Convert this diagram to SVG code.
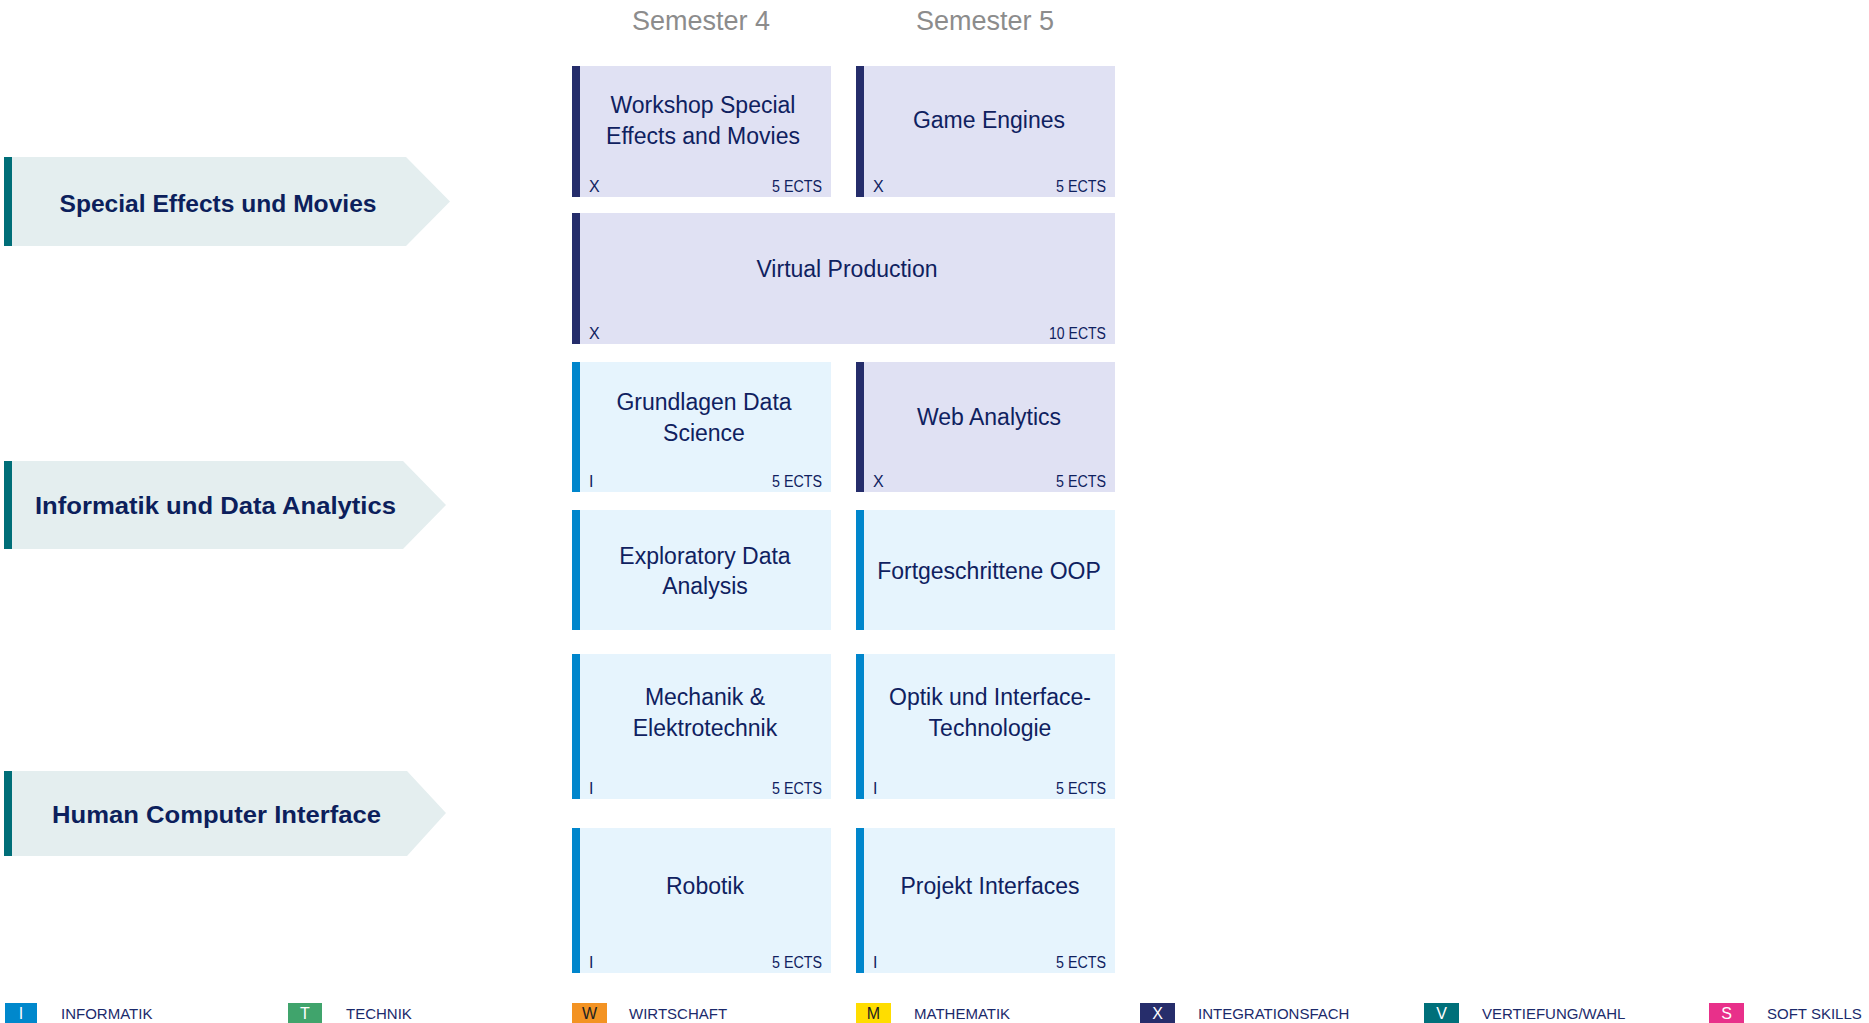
<svg xmlns="http://www.w3.org/2000/svg" width="1869" height="1023" viewBox="0 0 1869 1023">
<style>
  .bg{fill:#ffffff}
  .arrow{fill:#E4EEEF}
  .abar{fill:#006E78}
  .alabel{font-family:"Liberation Sans",Arial,sans-serif;font-weight:bold;font-size:24.5px;fill:#0C1F5C;text-anchor:middle}
  .sem{font-family:"Liberation Sans",Arial,sans-serif;font-size:27px;fill:#8C8C8C;text-anchor:middle}
  .fx{fill:#E0E1F3}
  .bx{fill:#252D6B}
  .fi{fill:#E6F4FD}
  .bi{fill:#0086CC}
  .t{font-family:"Liberation Sans",Arial,sans-serif;font-size:23px;fill:#0F2160;text-anchor:middle}
  .k{font-family:"Liberation Sans",Arial,sans-serif;font-size:16px;fill:#0F2160}
  .e{font-family:"Liberation Sans",Arial,sans-serif;font-size:16px;fill:#0F2160;text-anchor:end}
  .lg{font-family:"Liberation Sans",Arial,sans-serif;font-size:15px;fill:#1B2A6B}
  .lq{font-family:"Liberation Sans",Arial,sans-serif;font-size:16px;fill:#ffffff;text-anchor:middle}
  .lqd{font-family:"Liberation Sans",Arial,sans-serif;font-size:16px;fill:#222222;text-anchor:middle}
</style>
<rect class="bg" x="0" y="0" width="1869" height="1023"/>

<g id="headers">
  <text class="sem" x="701" y="30">Semester 4</text>
  <text class="sem" x="985" y="30">Semester 5</text>
</g>

<g id="area-sfx">
  <polygon class="arrow" points="12,157 406,157 450,201.5 406,246 12,246"/>
  <rect class="abar" x="4" y="157" width="8" height="89"/>
  <text class="alabel" x="218" y="212" textLength="317" lengthAdjust="spacingAndGlyphs">Special Effects und Movies</text>
</g>
<g id="area-ida">
  <polygon class="arrow" points="12,461 403,461 446,505 403,549 12,549"/>
  <rect class="abar" x="4" y="461" width="8" height="88"/>
  <text class="alabel" x="215.5" y="514" textLength="361" lengthAdjust="spacingAndGlyphs">Informatik und Data Analytics</text>
</g>
<g id="area-hci">
  <polygon class="arrow" points="12,771 407,771 446,813 407,856 12,856"/>
  <rect class="abar" x="4" y="771" width="8" height="85"/>
  <text class="alabel" x="216.5" y="823" textLength="329" lengthAdjust="spacingAndGlyphs">Human Computer Interface</text>
</g>

<g id="workshop">
  <rect class="fx" x="572" y="66" width="259" height="131"/>
  <rect class="bx" x="572" y="66" width="8" height="131"/>
  <text class="t" x="703" y="113">Workshop Special</text>
  <text class="t" x="703" y="144">Effects and Movies</text>
  <text class="k" x="589" y="192">X</text>
  <text class="e" x="822" y="192" textLength="50" lengthAdjust="spacingAndGlyphs">5 ECTS</text>
</g>
<g id="game-engines">
  <rect class="fx" x="856" y="66" width="259" height="131"/>
  <rect class="bx" x="856" y="66" width="8" height="131"/>
  <text class="t" x="989" y="128">Game Engines</text>
  <text class="k" x="873" y="192">X</text>
  <text class="e" x="1106" y="192" textLength="50" lengthAdjust="spacingAndGlyphs">5 ECTS</text>
</g>
<g id="virtual-production">
  <rect class="fx" x="572" y="213" width="543" height="131"/>
  <rect class="bx" x="572" y="213" width="8" height="131"/>
  <text class="t" x="847" y="277">Virtual Production</text>
  <text class="k" x="589" y="339">X</text>
  <text class="e" x="1106" y="339" textLength="57" lengthAdjust="spacingAndGlyphs">10 ECTS</text>
</g>
<g id="grundlagen-ds">
  <rect class="fi" x="572" y="362" width="259" height="130"/>
  <rect class="bi" x="572" y="362" width="8" height="130"/>
  <text class="t" x="704" y="410">Grundlagen Data</text>
  <text class="t" x="704" y="441">Science</text>
  <text class="k" x="589" y="487">I</text>
  <text class="e" x="822" y="487" textLength="50" lengthAdjust="spacingAndGlyphs">5 ECTS</text>
</g>
<g id="web-analytics">
  <rect class="fx" x="856" y="362" width="259" height="130"/>
  <rect class="bx" x="856" y="362" width="8" height="130"/>
  <text class="t" x="989" y="425">Web Analytics</text>
  <text class="k" x="873" y="487">X</text>
  <text class="e" x="1106" y="487" textLength="50" lengthAdjust="spacingAndGlyphs">5 ECTS</text>
</g>
<g id="eda">
  <rect class="fi" x="572" y="510" width="259" height="120"/>
  <rect class="bi" x="572" y="510" width="8" height="120"/>
  <text class="t" x="705" y="564">Exploratory Data</text>
  <text class="t" x="705" y="594">Analysis</text>
</g>
<g id="oop">
  <rect class="fi" x="856" y="510" width="259" height="120"/>
  <rect class="bi" x="856" y="510" width="8" height="120"/>
  <text class="t" x="989" y="579">Fortgeschrittene OOP</text>
</g>
<g id="mechanik">
  <rect class="fi" x="572" y="654" width="259" height="145"/>
  <rect class="bi" x="572" y="654" width="8" height="145"/>
  <text class="t" x="705" y="705">Mechanik &amp;</text>
  <text class="t" x="705" y="736">Elektrotechnik</text>
  <text class="k" x="589" y="794">I</text>
  <text class="e" x="822" y="794" textLength="50" lengthAdjust="spacingAndGlyphs">5 ECTS</text>
</g>
<g id="optik">
  <rect class="fi" x="856" y="654" width="259" height="145"/>
  <rect class="bi" x="856" y="654" width="8" height="145"/>
  <text class="t" x="990" y="705">Optik und Interface-</text>
  <text class="t" x="990" y="736">Technologie</text>
  <text class="k" x="873" y="794">I</text>
  <text class="e" x="1106" y="794" textLength="50" lengthAdjust="spacingAndGlyphs">5 ECTS</text>
</g>
<g id="robotik">
  <rect class="fi" x="572" y="828" width="259" height="145"/>
  <rect class="bi" x="572" y="828" width="8" height="145"/>
  <text class="t" x="705" y="894">Robotik</text>
  <text class="k" x="589" y="968">I</text>
  <text class="e" x="822" y="968" textLength="50" lengthAdjust="spacingAndGlyphs">5 ECTS</text>
</g>
<g id="projekt-interfaces">
  <rect class="fi" x="856" y="828" width="259" height="145"/>
  <rect class="bi" x="856" y="828" width="8" height="145"/>
  <text class="t" x="990" y="894">Projekt Interfaces</text>
  <text class="k" x="873" y="968">I</text>
  <text class="e" x="1106" y="968" textLength="50" lengthAdjust="spacingAndGlyphs">5 ECTS</text>
</g>

<g id="connectors"></g>

<g id="legend">
  <rect x="5" y="1003" width="32" height="20" fill="#0088CC"/>
  <text class="lq" x="21" y="1019">I</text>
  <text class="lg" x="61" y="1019">INFORMATIK</text>
  <rect x="288" y="1003" width="34" height="20" fill="#40A46C"/>
  <text class="lq" x="305" y="1019">T</text>
  <text class="lg" x="346" y="1019">TECHNIK</text>
  <rect x="572" y="1003" width="35" height="20" fill="#F39323"/>
  <text class="lqd" x="589.5" y="1019">W</text>
  <text class="lg" x="629" y="1019">WIRTSCHAFT</text>
  <rect x="856" y="1003" width="35" height="20" fill="#FFDD00"/>
  <text class="lqd" x="873.5" y="1019">M</text>
  <text class="lg" x="914" y="1019">MATHEMATIK</text>
  <rect x="1140" y="1003" width="35" height="20" fill="#262D6B"/>
  <text class="lq" x="1157.5" y="1019">X</text>
  <text class="lg" x="1198" y="1019">INTEGRATIONSFACH</text>
  <rect x="1424" y="1003" width="35" height="20" fill="#00707A"/>
  <text class="lq" x="1441.5" y="1019">V</text>
  <text class="lg" x="1482" y="1019">VERTIEFUNG/WAHL</text>
  <rect x="1709" y="1003" width="35" height="20" fill="#E8308A"/>
  <text class="lq" x="1726.5" y="1019">S</text>
  <text class="lg" x="1767" y="1019">SOFT SKILLS</text>
</g>
</svg>
